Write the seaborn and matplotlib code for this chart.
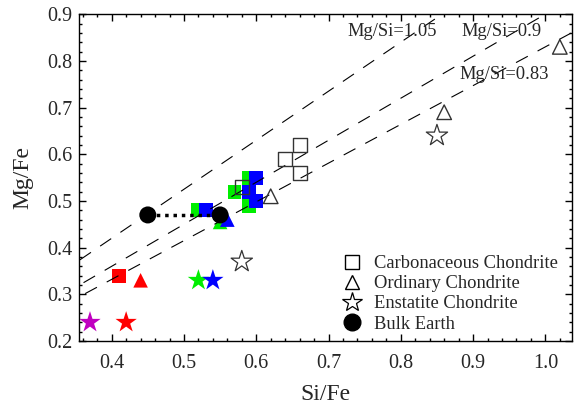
import numpy as np
import pandas as pd
import matplotlib
matplotlib.use('agg')
import seaborn as sns
import matplotlib.pyplot as plt
from matplotlib.lines import Line2D

# open reference symbols
cc_x = [0.66, 0.64, 0.66, 0.58]
cc_y = [0.62, 0.59, 0.56, 0.53]
oc_x = [1.02, 0.86, 0.62]
oc_y = [0.83, 0.69, 0.51]
ec_x = [0.85, 0.58]
ec_y = [0.64, 0.37]
be_x = [0.45, 0.55]
be_y = [0.47, 0.47]

# coloured model points (green drawn under blue)
col_x = [0.41, 0.44, 0.42, 0.37,
         0.52, 0.57, 0.59, 0.59, 0.55, 0.52,
         0.53, 0.59, 0.60, 0.60, 0.56, 0.54]
col_y = [0.34, 0.33, 0.24, 0.24,
         0.48, 0.52, 0.55, 0.49, 0.455, 0.33,
         0.48, 0.52, 0.55, 0.50, 0.46, 0.33]
col_kind = ["s", "^", "*", "*",
            "s", "s", "s", "s", "^", "*",
            "s", "s", "s", "s", "^", "*"]
col_color = ["#ff0000", "#ff0000", "#ff0000", "#c000c0",
             "#00ee00", "#00ee00", "#00ee00", "#00ee00", "#00ee00", "#00ee00",
             "#0000ff", "#0000ff", "#0000ff", "#0000ff", "#0000ff", "#0000ff"]

ratios = [1.05, 0.9, 0.83]
ratio_labels = ["Mg/Si=1.05", "Mg/Si=0.9", "Mg/Si=0.83"]

SIZES = {"s": 100, "^": 110, "*": 260, "o": 150}

def main():
    sns.set_style("ticks")
    plt.rcParams['font.family'] = ['Liberation Serif', 'DejaVu Serif']
    plt.rcParams['mathtext.fontset'] = 'stix'

    fig = plt.figure(figsize=(5.82, 4.05), dpi=100)
    ax = fig.add_axes([0.136, 0.158, 0.847, 0.807])

    col = pd.DataFrame({"x": col_x, "y": col_y, "m": col_kind, "c": col_color})
    for i, row in col.iterrows():
        sns.scatterplot(x=[row.x], y=[row.y], marker=row.m, color=row.c,
                        s=SIZES[row.m], edgecolor="none", ax=ax, zorder=2)

    # constant Mg/Si lines
    xs = np.array([0.0, 1.1])
    for k in ratios:
        sns.lineplot(x=xs, y=k * xs, color="black", lw=0.8,
                     linestyle=(0, (12, 10)), ax=ax, zorder=3)

    sns.scatterplot(x=cc_x, y=cc_y, marker="s", s=SIZES["s"], facecolor="none",
                    edgecolor="#333333", linewidth=1.0, ax=ax, zorder=4)
    sns.scatterplot(x=oc_x, y=oc_y, marker="^", s=SIZES["^"], facecolor="none",
                    edgecolor="#333333", linewidth=1.0, ax=ax, zorder=4)
    sns.scatterplot(x=ec_x, y=ec_y, marker="*", s=SIZES["*"], facecolor="none",
                    edgecolor="#333333", linewidth=0.9, ax=ax, zorder=4)
    sns.lineplot(x=be_x, y=be_y, color="black", lw=2.5, linestyle=(0, (1, 1.4)),
                 ax=ax, zorder=4)
    sns.scatterplot(x=be_x, y=be_y, marker="o", s=SIZES["o"], color="black",
                    edgecolor="none", ax=ax, zorder=5)

    ax.text(0.788, 0.862, ratio_labels[0], ha="center", va="center", fontsize=13.3)
    ax.text(0.939, 0.862, ratio_labels[1], ha="center", va="center", fontsize=13.3)
    ax.text(0.943, 0.770, ratio_labels[2], ha="center", va="center", fontsize=13.3)

    ax.set_xlim(0.355, 1.037)
    ax.set_ylim(0.2, 0.9)
    ax.set_xticks([0.4, 0.5, 0.6, 0.7, 0.8, 0.9, 1.0])
    ax.set_xticklabels(["0.4", "0.5", "0.6", "0.7", "0.8", "0.9", "1.0"])
    ax.set_yticks([0.2, 0.3, 0.4, 0.5, 0.6, 0.7, 0.8, 0.9])
    ax.set_yticklabels(["0.2", "0.3", "0.4", "0.5", "0.6", "0.7", "0.8", "0.9"])
    ax.xaxis.set_minor_locator(matplotlib.ticker.MultipleLocator(0.02))
    ax.yaxis.set_minor_locator(matplotlib.ticker.MultipleLocator(0.02))
    ax.tick_params(which="both", direction="in", top=True, right=True,
                   labelsize=14.5, width=1.0, color="black")
    ax.tick_params(which="major", length=5, pad=5)
    ax.tick_params(axis="x", which="major", pad=9)
    ax.tick_params(which="minor", length=2.5)
    for sp in ax.spines.values():
        sp.set_linewidth(1.0)
        sp.set_color("black")
    ax.set_xlabel("Si/Fe", fontsize=17, labelpad=8)
    ax.set_ylabel("Mg/Fe", fontsize=17, labelpad=10)

    handles = [
        Line2D([], [], ls="none", marker="s", ms=10, mfc="none", mec="black", mew=1.0),
        Line2D([], [], ls="none", marker="^", ms=10, mfc="none", mec="black", mew=1.0),
        Line2D([], [], ls="none", marker="*", ms=15, mfc="none", mec="black", mew=0.9),
        Line2D([], [], ls="none", marker="o", ms=12, mfc="black", mec="black"),
    ]
    labels = ["Carbonaceous Chondrite", "Ordinary Chondrite",
              "Enstatite Chondrite", "Bulk Earth"]
    ax.legend(handles, labels, loc="lower right", bbox_to_anchor=(1.005, -0.025),
              frameon=False, fontsize=13.3, handletextpad=0.6, labelspacing=0.17,
              handlelength=1.2)

    fig.savefig("out.png", dpi=100)

if __name__ == "__main__":
    main()
